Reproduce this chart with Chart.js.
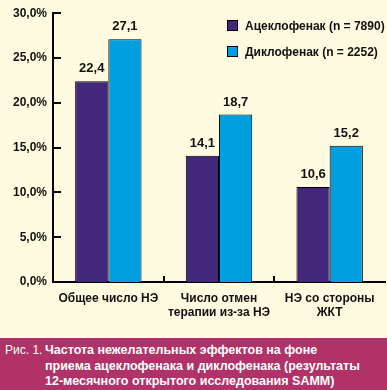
<!DOCTYPE html>
<html>
<head>
<meta charset="utf-8">
<script src="https://cdn.jsdelivr.net/npm/chart.js@4/dist/chart.umd.min.js"></script>
<style>
  body { margin: 0; background: #FFFBE0; width: 387px; height: 390px; overflow: hidden; }
  #wrap { position: relative; width: 387px; height: 338px; }
  #legend { position: absolute; left: 227px; top: 19px; font: bold 12px "Liberation Sans Narrow", sans-serif; color: #111; }
  #legend div { display: flex; align-items: center; height: 13px; margin-bottom: 13px; white-space: nowrap; }
  #legend span.box { width: 9px; height: 9px; border: 1px solid #000; margin-right: 7px; }
  #caption { position: absolute; left: 0; top: 338px; width: 387px; height: 52px; background: #B03269; color: #fff;
    font: 12.5px "Liberation Sans Narrow", sans-serif; line-height: 15.5px; box-sizing: border-box; padding: 5px 0 0 5px; white-space: nowrap; }
  #caption .num { position: absolute; left: 5px; top: 5px; font-size: 12px; }
  #caption b { display: block; margin-left: 40px; }
</style>
</head>
<body>
<div id="wrap">
  <canvas id="chart" width="387" height="338"></canvas>
  <div id="legend"></div>
</div>
<div id="caption"><span class="num">Рис. 1.</span><b>Частота нежелательных эффектов на фоне<br>приема ацеклофенака и диклофенака (результаты<br>12-месячного открытого исследования SAMM)</b></div>
<script>
const categories = [['Общее число НЭ'], ['Число отмен', 'терапии из-за НЭ'], ['НЭ со стороны', 'ЖКТ']];
const seriesNames = ['Ацеклофенак (n = 7890)', 'Диклофенак (n = 2252)'];
const aceclofenac = [22.4, 14.1, 10.6];
const diclofenac = [27.1, 18.7, 15.2];
const colors = ['#43277A', '#009FE0'];

const font = { family: '"Liberation Sans Narrow", sans-serif', weight: 'bold', size: 12 };

const legendEl = document.getElementById('legend');
seriesNames.forEach((name, i) => {
  const row = document.createElement('div');
  row.innerHTML = `<span class="box" style="background:${colors[i]}"></span>${name}`;
  legendEl.appendChild(row);
});

// ticks drawn inside the plot area, like in the figure
const innerTicks = {
  id: 'innerTicks',
  afterDraw(chart) {
    const ctx = chart.ctx;
    const y = chart.scales.y, x = chart.scales.x;
    const left = x.left;
    ctx.save();
    ctx.fillStyle = '#000';
    for (let i = 0; i < y.ticks.length; i++) {
      const py = Math.round(y.getPixelForTick(i));
      ctx.fillRect(left, py - 1, 8, 2);
    }
    for (let i = 1; i < categories.length; i++) {
      const px = Math.round((x.getPixelForTick(i - 1) + x.getPixelForTick(i)) / 2);
      ctx.fillRect(px - 1, y.bottom - 6, 2, 6);
    }
    ctx.restore();
  }
};

const valueLabels = {
  id: 'valueLabels',
  afterDatasetsDraw(chart) {
    const ctx = chart.ctx;
    ctx.save();
    ctx.font = `bold 13px ${font.family}`;
    ctx.fillStyle = '#111';
    ctx.textAlign = 'center';
    ctx.textBaseline = 'bottom';
    chart.data.datasets.forEach((ds, di) => {
      chart.getDatasetMeta(di).data.forEach((bar, i) => {
        ctx.fillText(ds.data[i].toFixed(1).replace('.', ','), bar.x, bar.y - 6);
      });
    });
    ctx.restore();
  }
};

new Chart(document.getElementById('chart'), {
  type: 'bar',
  data: {
    labels: categories,
    datasets: [
      { label: seriesNames[0], data: aceclofenac, backgroundColor: colors[0], borderColor: '#000', borderWidth: 1 },
      { label: seriesNames[1], data: diclofenac, backgroundColor: colors[1], borderColor: '#000', borderWidth: 1 }
    ]
  },
  options: {
    responsive: false,
    animation: false,
    layout: { padding: { top: 6, right: 2, left: 0, bottom: 0 } },
    plugins: { legend: { display: false }, tooltip: { enabled: false } },
    datasets: { bar: { categoryPercentage: 0.6, barPercentage: 1 } },
    scales: {
      x: {
        grid: { display: false, drawTicks: false },
        border: { color: '#000', width: 2 },
        ticks: { color: '#111', font, padding: 9, maxRotation: 0 },
        afterFit(scale) { scale.height = 56; }
      },
      y: {
        min: 0, max: 30,
        grid: { display: false, drawTicks: false },
        border: { color: '#000', width: 2 },
        ticks: {
          stepSize: 5, color: '#111', font, padding: 6,
          callback: v => v.toFixed(1).replace('.', ',') + '%'
        },
        afterFit(scale) { scale.width = 53; }
      }
    }
  },
  plugins: [innerTicks, valueLabels]
});
</script>
</body>
</html>
